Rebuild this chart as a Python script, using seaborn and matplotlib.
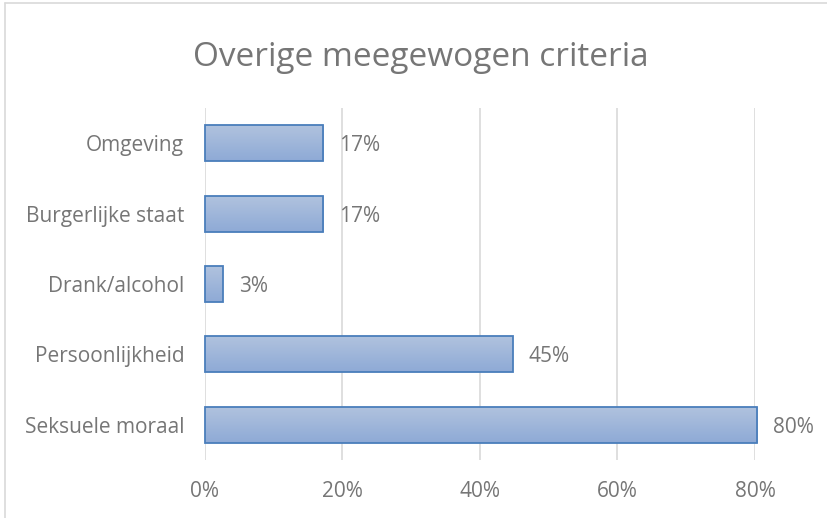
import numpy as np
import pandas as pd
import matplotlib
matplotlib.use("Agg")
import matplotlib.pyplot as plt
import seaborn as sns
from matplotlib.colors import LinearSegmentedColormap

categories = ["Omgeving", "Burgerlijke staat", "Drank/alcohol", "Persoonlijkheid", "Seksuele moraal"]
values = [0.172, 0.172, 0.026, 0.448, 0.803]
labels = ["17%", "17%", "3%", "45%", "80%"]
xticks = [0.0, 0.2, 0.4, 0.6, 0.8]
xticklabels = ["0%", "20%", "40%", "60%", "80%"]
title = "Overige meegewogen criteria"

sns.set_theme(style="white")
plt.rcParams['font.family'] = ['Open Sans', 'DejaVu Sans']

TXT = "#767676"
W, H = 828, 518
fig = plt.figure(figsize=(W / 100, H / 100), dpi=100)
ax = fig.add_axes([205 / W, 1 - 460 / H, (755 - 205) / W, (460 - 108) / H])

df = pd.DataFrame({"cat": categories, "val": values})
sns.barplot(data=df, x="val", y="cat", orient="h", ax=ax, width=0.51,
            color="#9db3da", edgecolor="#4a7ebb", linewidth=1.3, saturation=1)

# gradient fill
cmap = LinearSegmentedColormap.from_list("g", ["#b0c2de", "#8eaad6"])
grad = np.linspace(0, 1, 100).reshape(-1, 1)
for p in ax.patches:
    x0, y0 = p.get_x(), p.get_y()
    w, h = p.get_width(), p.get_height()
    im = ax.imshow(grad, cmap=cmap, aspect="auto", extent=[x0, x0 + w, y0 + h, y0],
                   origin="upper", zorder=p.get_zorder() - 0.1)
    im.set_clip_path(p)
    p.set_facecolor("none")
    p.set_clip_on(False)

ax.set_xlim(0, 0.8)
ax.set_ylim(4.5, -0.5)
ax.set_xticks(xticks)
ax.set_xticklabels(xticklabels)
ax.grid(axis="x", color="#d9d9d9", linewidth=1.2)
ax.set_axisbelow(True)
for s in ax.spines.values():
    s.set_visible(False)
ax.set_xlabel("")
ax.set_ylabel("")
ax.tick_params(axis="both", length=0, labelsize=15, colors=TXT)
ax.tick_params(axis="x", pad=15)
ax.tick_params(axis="y", pad=15)

for i, (v, lab) in enumerate(zip(values, labels)):
    ax.annotate(lab, xy=(v, i), xytext=(11.5, 0), textcoords="offset points",
                va="center_baseline", ha="left", fontsize=15, color=TXT,
                annotation_clip=False)

fig.text(421 / W, 1 - 66 / H, title, ha="center", va="baseline", fontsize=24, color=TXT)

# chart border (top and left visible)
fig.add_artist(plt.Line2D([5 / W, 5 / W], [0, 1 - 3 / H], color="#d9d9d9", linewidth=1.2, transform=fig.transFigure))
fig.add_artist(plt.Line2D([5 / W, 1], [1 - 3 / H, 1 - 3 / H], color="#d9d9d9", linewidth=1.2, transform=fig.transFigure))

fig.savefig("out.png", dpi=100)
